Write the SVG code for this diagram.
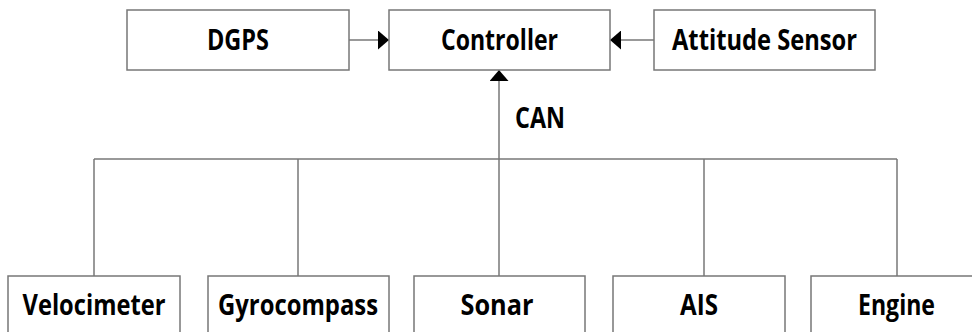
<svg xmlns="http://www.w3.org/2000/svg" width="972" height="332" viewBox="0 0 972 332">
<style>
.box{fill:#fff;stroke:#777;stroke-width:1.5}
.lbl{font-family:"Open Sans","Liberation Sans",sans-serif;font-weight:700;font-size:28px;fill:#000;text-anchor:middle}
.con{fill:none;stroke:#777;stroke-width:1.5}
</style>
<defs>
<marker id="arr" viewBox="0 0 11 19" refX="11" refY="9.5" markerWidth="11" markerHeight="19" markerUnits="userSpaceOnUse" orient="auto">
<path d="M0,0 L11,9.5 L0,19 Z" fill="#000"/>
</marker>
</defs>
<rect width="972" height="332" fill="#fff"/>
<g id="connectors">
<line class="con" x1="349" y1="40" x2="389" y2="40" marker-end="url(#arr)"/>
<line class="con" x1="654" y1="40" x2="610" y2="40" marker-end="url(#arr)"/>
<line class="con" x1="499" y1="276" x2="499" y2="70" marker-end="url(#arr)"/>
<line class="con" x1="94" y1="159" x2="897" y2="159"/>
<line class="con" x1="94" y1="159" x2="94" y2="276"/>
<line class="con" x1="298" y1="159" x2="298" y2="276"/>
<line class="con" x1="704" y1="159" x2="704" y2="276"/>
<line class="con" x1="897" y1="159" x2="897" y2="276"/>
<text class="lbl" x="540" y="128" textLength="50" lengthAdjust="spacingAndGlyphs">CAN</text>
</g>
<g id="dgps"><rect class="box" x="127" y="10" width="222" height="60"/><text class="lbl" x="238" y="50" textLength="62" lengthAdjust="spacingAndGlyphs">DGPS</text></g>
<g id="controller"><rect class="box" x="389" y="10" width="221" height="60"/><text class="lbl" x="499.5" y="50" textLength="117" lengthAdjust="spacingAndGlyphs">Controller</text></g>
<g id="attitude"><rect class="box" x="654" y="10" width="221" height="60"/><text class="lbl" x="764.5" y="50" textLength="185" lengthAdjust="spacingAndGlyphs">Attitude Sensor</text></g>
<g id="velocimeter"><rect class="box" x="8" y="276" width="172" height="70"/><text class="lbl" x="94" y="315" textLength="143" lengthAdjust="spacingAndGlyphs">Velocimeter</text></g>
<g id="gyrocompass"><rect class="box" x="208" y="276" width="181" height="70"/><text class="lbl" x="298" y="315" textLength="160" lengthAdjust="spacingAndGlyphs">Gyrocompass</text></g>
<g id="sonar"><rect class="box" x="414" y="276" width="171" height="70"/><text class="lbl" x="497" y="315" textLength="73" lengthAdjust="spacingAndGlyphs">Sonar</text></g>
<g id="ais"><rect class="box" x="613" y="276" width="172" height="70"/><text class="lbl" x="699" y="315" textLength="38" lengthAdjust="spacingAndGlyphs">AIS</text></g>
<g id="engine"><rect class="box" x="811" y="276" width="172" height="70"/><text class="lbl" x="896.5" y="315" textLength="77" lengthAdjust="spacingAndGlyphs">Engine</text></g>
</svg>
